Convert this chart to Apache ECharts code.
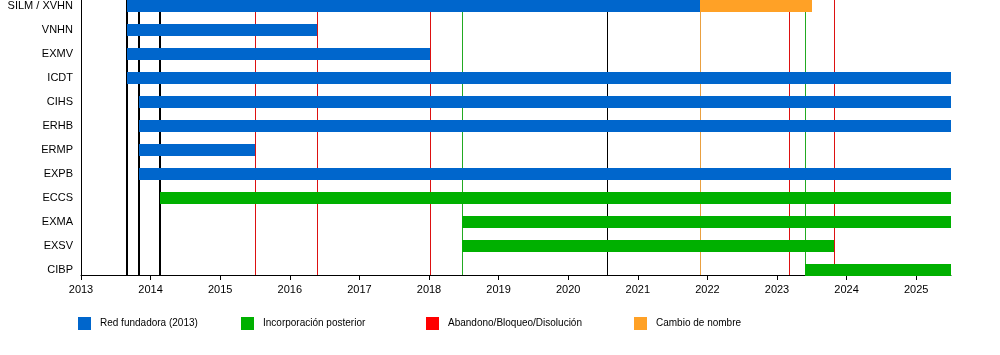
<!DOCTYPE html>
<html>
<head>
<meta charset="utf-8">
<script src="https://cdn.jsdelivr.net/npm/echarts@6/dist/echarts.min.js"></script>
<style>
html,body{margin:0;padding:0;background:#fff;}
#chart{width:1000px;height:355px;}
</style>
</head>
<body>
<div id="chart"></div>
<script>
// ---- data ----
const categories = ['SILM / XVHN','VNHN','EXMV','ICDT','CIHS','ERHB','ERMP','EXPB','ECCS','EXMA','EXSV','CIBP'];
const tickYears = [2013,2014,2015,2016,2017,2018,2019,2020,2021,2022,2023,2024,2025];
// [category, start, end]
const foundingBars = [
  ['SILM / XVHN', 2013.66, 2021.89],
  ['VNHN', 2013.66, 2016.39],
  ['EXMV', 2013.66, 2018.01],
  ['ICDT', 2013.66, 2025.5],
  ['CIHS', 2013.83, 2025.5],
  ['ERHB', 2013.83, 2025.5],
  ['ERMP', 2013.83, 2015.5],
  ['EXPB', 2013.83, 2025.5]
];
const laterBars = [
  ['ECCS', 2014.14, 2025.5],
  ['EXMA', 2018.47, 2025.5],
  ['EXSV', 2018.47, 2023.82],
  ['CIBP', 2023.40, 2025.5]
];
const renameBars = [
  ['SILM / XVHN', 2021.89, 2023.5]
];
const milestoneLinesMajor = [2013.66, 2013.83, 2014.14];
const milestoneLinesMinor = [2020.56];
const exitLines = [2015.5, 2016.39, 2018.01, 2023.17, 2023.82];
const joinLines = [2018.47, 2023.40];
const renameLines = [2021.89];

const legendNames = ['Red fundadora (2013)','Incorporación posterior','Abandono/Bloqueo/Disolución','Cambio de nombre'];

// ---- build ----
const FONT = 'Liberation Sans, Arial, sans-serif';
const yMin = -0.25, yMax = 11.21;

function barData(list){ return list.map(d => [categories.indexOf(d[0]), d[1], d[2]]); }
function barRender(params, api){
  const y = api.value(0);
  const p0 = api.coord([api.value(1), y]);
  const p1 = api.coord([api.value(2), y]);
  const h = 12;
  return {type:'rect', shape:{x:Math.round(p0[0]), y:Math.round(p0[1]-h/2), width:Math.round(p1[0])-Math.round(p0[0]), height:h},
          style:{fill: api.visual('color')}};
}
function lineRenderFactory(width, color){
  return function(params, api){
    const x = api.value(0);
    const a = api.coord([x, yMin]);
    const b = api.coord([x, yMax]);
    let px = Math.round(a[0]);
    if (width % 2 === 1) px += 0.5;
    return {type:'line', shape:{x1:px, y1:a[1], x2:px, y2:b[1]},
            style:{stroke: color, lineWidth: width}};
  };
}
function lineSeries(name, values, color, legendColor, width){
  return {type:'custom', name:name, renderItem:lineRenderFactory(width, color), data: values.map(v => [v]),
          encode:{x:0}, itemStyle:{color:legendColor}, z:1, silent:true, clip:false};
}
function barSeries(name, list, color){
  return {type:'custom', name:name, renderItem:barRender, data: barData(list),
          encode:{x:[1,2], y:0}, itemStyle:{color:color}, z:3, silent:true};
}

const colors = {blue:'#0066cc', green:'#00b000', red:'#ff0000', orange:'#ffa126'};

const legendLefts = [78, 241, 426, 634];
const legends = legendNames.map((n,i) => ({
  data:[n], left:legendLefts[i], top:317, padding:0, itemWidth:13, itemHeight:13, icon:'rect',
  selectedMode:false, textStyle:{fontFamily:FONT, fontSize:10, color:'#000', padding:[0,0,0,4]}
}));

const option = {
  animation:false,
  backgroundColor:'#fff',
  grid:{left:81, right:49, top:0, bottom:80, containLabel:false},
  legend: legends,
  xAxis:{
    type:'value', min:2013, max:2025.5, position:'bottom',
    axisLine:{show:true, onZero:false, lineStyle:{color:'#000', width:1}},
    axisTick:{show:true, length:5, lineStyle:{color:'#000'}, customValues:tickYears},
    axisLabel:{customValues:tickYears, formatter:v => String(v), color:'#000', fontFamily:FONT, fontSize:11, margin:9},
    splitLine:{show:false}
  },
  yAxis:{
    type:'value', inverse:true, min:yMin, max:yMax, position:'left',
    axisLine:{show:true, onZero:false, lineStyle:{color:'#000', width:1}},
    axisTick:{show:false},
    axisLabel:{customValues:categories.map((c,i)=>i), formatter:v => categories[v] || '', color:'#000', fontFamily:FONT, fontSize:11, margin:8},
    splitLine:{show:false}
  },
  series:[
    barSeries(legendNames[0], foundingBars, colors.blue),
    barSeries(legendNames[1], laterBars, colors.green),
    barSeries(legendNames[3], renameBars, colors.orange),
    lineSeries(legendNames[2], exitLines, '#dd1111', colors.red, 1),
    lineSeries(legendNames[1], joinLines, '#22aa22', colors.green, 1),
    lineSeries(legendNames[3], renameLines, '#eaa040', colors.orange, 1),
    lineSeries('hitos', milestoneLinesMajor, '#000000', '#000000', 2),
    lineSeries('hitos2', milestoneLinesMinor, '#000000', '#000000', 1)
  ]
};
const chart = echarts.init(document.getElementById('chart'), null, {renderer:'canvas'});
chart.setOption(option);
</script>
</body>
</html>
